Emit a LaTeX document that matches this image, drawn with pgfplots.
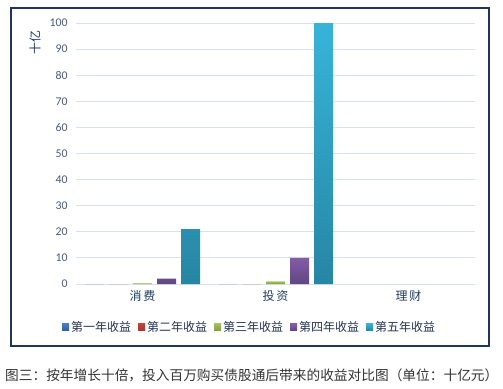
\documentclass[border=0pt]{standalone}
\usepackage{pgfplots}
\pgfplotsset{compat=1.18}
\usepackage{fontspec}
\setmainfont{Carlito}
\newfontfamily\cjk{Noto Sans CJK SC}
\definecolor{framec}{HTML}{1F3560}
\definecolor{gridc}{HTML}{D9E1EA}
\definecolor{tickc}{HTML}{4A5A78}
\definecolor{catc}{HTML}{1F3A60}
\definecolor{legc}{HTML}{243452}
\definecolor{capc}{HTML}{333333}
\definecolor{aT}{HTML}{4A7EC0}\definecolor{aB}{HTML}{335F9C}
\definecolor{bT}{HTML}{C9423B}\definecolor{bB}{HTML}{A33530}
\definecolor{cT}{HTML}{A2C25C}\definecolor{cB}{HTML}{7E9E42}
\definecolor{dT}{HTML}{845CA8}\definecolor{dB}{HTML}{5F4682}
\definecolor{eT}{HTML}{38B4D9}\definecolor{eB}{HTML}{2686A3}
\begin{document}
\begin{tikzpicture}
\useasboundingbox (0,0) rectangle (503bp,-389bp);
\draw[color=framec, line width=1.2bp] (11bp,-8bp) rectangle (489bp,-346bp);
\begin{axis}[
  at={(76bp,-284bp)}, anchor=south west,
  scale only axis, width=399bp, height=261bp,
  xmin=-0.5, xmax=2.5, ymin=0, ymax=100,
  ybar=5bp, bar width=19bp,
  axis line style={draw=none},
  major tick length=0pt,
  ymajorgrids, grid style={color=gridc, line width=0.9bp},
  ytick={0,10,...,100},
  xtick={0,1,2},
  xticklabels={{\cjk 消\hspace{2bp}费},{\cjk 投\hspace{2bp}资},{\cjk 理\hspace{2bp}财}},
  /pgf/number format/assume math mode=true,
  yticklabel style={font=\fontsize{11.8bp}{13bp}\selectfont, color=tickc, xshift=-5bp},
  xticklabel style={font=\fontsize{12bp}{14bp}\selectfont, color=catc, yshift=-3bp},
  ylabel={\cjk 十亿},
  ylabel style={at={(axis description cs:-0.1028,0.927)}, anchor=center, font=\fontsize{12bp}{14bp}\selectfont, color=catc},
  legend columns=5,
  legend style={at={(axis description cs:0.435,-0.165)}, anchor=center, draw=none, fill=none,
    font=\fontsize{12bp}{14bp}\selectfont\cjk, text=legc,
    /tikz/every even column/.append style={column sep=5bp}},
  legend image code/.code={\path[#1, draw=none] (0bp,-3.5bp) rectangle (7bp,3.5bp);},
]
\addplot[draw=none, top color=aT, bottom color=aB] coordinates {(0,0.0021) (1,0.01)};
\addplot[draw=none, top color=bT, bottom color=bB] coordinates {(0,0.021) (1,0.1)};
\addplot[draw=none, top color=cT, bottom color=cB] coordinates {(0,0.21) (1,1)};
\addplot[draw=none, top color=dT, bottom color=dB] coordinates {(0,2.1) (1,10)};
\addplot[draw=none, top color=eT, bottom color=eB] coordinates {(0,21) (1,100)};
\legend{第一年收益,第二年收益,第三年收益,第四年收益,第五年收益}
\end{axis}
\node[anchor=west, color=capc, inner sep=0pt, font=\fontsize{13.7bp}{15bp}\selectfont\cjk] at (5bp,-375bp) {图三：按年增长十倍，投入百万购买债股通后带来的收益对比图（单位：十亿元）};
\end{tikzpicture}
\end{document}
